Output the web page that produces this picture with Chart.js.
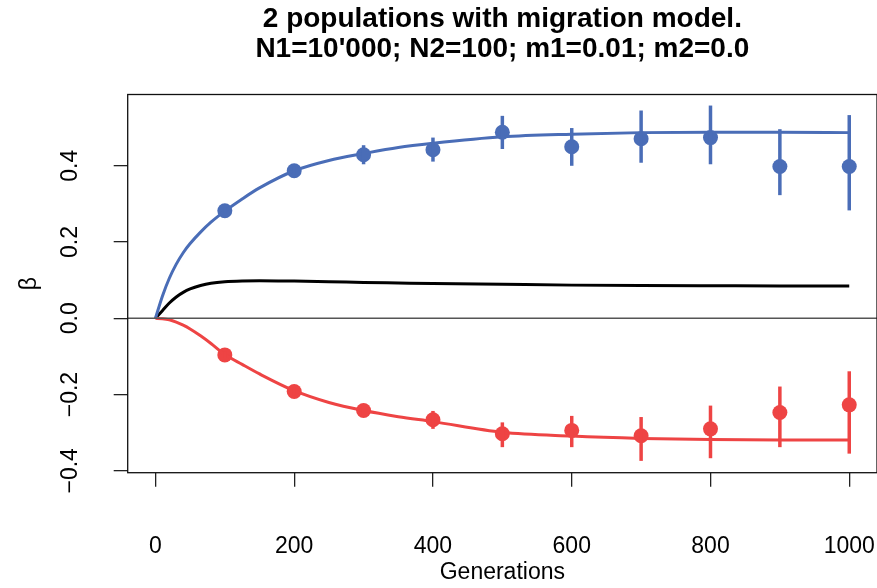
<!DOCTYPE html>
<html>
<head>
<meta charset="utf-8">
<script src="https://cdn.jsdelivr.net/npm/chart.js@4/dist/chart.umd.min.js"></script>
<style>
  html, body { margin: 0; padding: 0; background: #ffffff; }
  #wrap { width: 877px; height: 588px; }
</style>
</head>
<body>
<div id="wrap"><canvas id="chart" width="877" height="588"></canvas></div>
<script>
// Sampled generations (simulation means with error bars)
const generations = [100, 200, 300, 400, 500, 600, 700, 800, 900, 1000];

// Population 1 (blue): simulated beta and its interval
const pop1Mean  = [0.282, 0.387, 0.429, 0.442, 0.488, 0.450, 0.471, 0.474, 0.398, 0.398];
const pop1Lower = [0.274, 0.377, 0.404, 0.411, 0.444, 0.400, 0.408, 0.404, 0.323, 0.283];
const pop1Upper = [0.290, 0.397, 0.454, 0.474, 0.531, 0.499, 0.545, 0.558, 0.496, 0.533];

// Population 2 (red): simulated beta and its interval
const pop2Mean  = [-0.096, -0.192, -0.242, -0.266, -0.303, -0.294, -0.308, -0.290, -0.247, -0.227];
const pop2Lower = [-0.104, -0.202, -0.257, -0.290, -0.338, -0.338, -0.374, -0.367, -0.338, -0.355];
const pop2Upper = [-0.088, -0.182, -0.227, -0.243, -0.273, -0.256, -0.259, -0.229, -0.179, -0.139];

// Model predictions over time
const modelGen   = [0, 10, 20, 30, 40, 50, 65, 80, 100, 125, 150, 200, 250, 300, 350, 400, 500, 600, 700, 800, 900, 1000];
const pop1Model  = [0, 0.058, 0.105, 0.142, 0.172, 0.196, 0.226, 0.252, 0.281, 0.313, 0.342, 0.387, 0.414, 0.432, 0.448, 0.459, 0.476, 0.483, 0.487, 0.488, 0.488, 0.487];
const pop2Model  = [0, -0.001, -0.004, -0.010, -0.018, -0.028, -0.046, -0.066, -0.095, -0.121, -0.146, -0.190, -0.221, -0.242, -0.258, -0.271, -0.299, -0.309, -0.315, -0.318, -0.319, -0.319];
const diffModel  = [0, 0.020, 0.040, 0.056, 0.068, 0.077, 0.086, 0.092, 0.096, 0.098, 0.0985, 0.0975, 0.096, 0.094, 0.0925, 0.091, 0.089, 0.087, 0.086, 0.0855, 0.085, 0.085];

// Axis ticks
const xTicks = [0, 200, 400, 600, 800, 1000];
const yTicks = [-0.4, -0.2, 0, 0.2, 0.4];

const titleLines = ['2 populations with migration model.', "N1=10'000; N2=100; m1=0.01; m2=0.0"];

const BLUE = '#4A6DB7';
const RED = '#EE4444';
const FONT = '"Liberation Sans", Arial, Helvetica, sans-serif';

const toXY = (xs, ys) => xs.map((x, i) => ({ x: x, y: ys[i] }));

// Vertical error bars for the simulated means
const errorBars = {
  id: 'errorBars',
  afterDatasetsDraw(chart) {
    const { ctx, scales: { x, y } } = chart;
    const series = [
      { lo: pop1Lower, hi: pop1Upper, color: BLUE },
      { lo: pop2Lower, hi: pop2Upper, color: RED }
    ];
    ctx.save();
    ctx.lineCap = 'butt';
    ctx.lineWidth = 3.5;
    series.forEach(s => {
      ctx.strokeStyle = s.color;
      generations.forEach((g, i) => {
        const px = x.getPixelForValue(g);
        ctx.beginPath();
        ctx.moveTo(px, y.getPixelForValue(s.lo[i]));
        ctx.lineTo(px, y.getPixelForValue(s.hi[i]));
        ctx.stroke();
      });
    });
    ctx.restore();
  }
};

// Frame around the plot region and the two-line heading
const frameAndHeading = {
  id: 'frameAndHeading',
  afterDraw(chart) {
    const { ctx, chartArea: a } = chart;
    ctx.save();
    ctx.strokeStyle = '#111';
    ctx.lineWidth = 1.3;
    ctx.strokeRect(a.left, a.top, a.right - a.left, a.bottom - a.top);
    ctx.fillStyle = '#000';
    ctx.font = 'bold 28px ' + FONT;
    ctx.textAlign = 'center';
    ctx.textBaseline = 'middle';
    const cx = (a.left + a.right) / 2;
    ctx.fillText(titleLines[0], cx, 19);
    ctx.fillText(titleLines[1], cx, 49);
    ctx.restore();
  }
};

const lineSet = (label, ys, color, width) => ({
  label: label,
  data: toXY(modelGen, ys),
  showLine: true,
  borderColor: color,
  borderWidth: width,
  pointRadius: 0,
  cubicInterpolationMode: 'monotone',
  fill: false
});

const pointSet = (label, ys, color) => ({
  label: label,
  data: toXY(generations, ys),
  showLine: false,
  pointRadius: 7.5,
  pointBorderWidth: 0,
  pointBackgroundColor: color,
  backgroundColor: color,
  borderColor: color
});

new Chart(document.getElementById('chart'), {
  type: 'scatter',
  data: {
    datasets: [
      {
        label: 'zero',
        data: [{ x: -40, y: 0 }, { x: 1040, y: 0 }],
        showLine: true,
        borderColor: '#555555',
        borderWidth: 1.6,
        pointRadius: 0
      },
      lineSet('pop1 model', pop1Model, BLUE, 3),
      lineSet('pop2 model', pop2Model, RED, 3),
      lineSet('difference', diffModel, '#000000', 3),
      pointSet('pop1', pop1Mean, BLUE),
      pointSet('pop2', pop2Mean, RED)
    ]
  },
  options: {
    responsive: false,
    animation: false,
    devicePixelRatio: 1,
    layout: { autoPadding: false, padding: { top: 94.5, left: 0, right: 0, bottom: 0 } },
    plugins: {
      legend: { display: false },
      tooltip: { enabled: false },
      title: { display: false }
    },
    scales: {
      x: {
        type: 'linear',
        min: -40,
        max: 1040,
        afterBuildTicks: s => { s.ticks = xTicks.map(v => ({ value: v })); },
        afterFit: s => { s.height = 115.3; s.paddingLeft = 0; s.paddingRight = 0; },
        border: { display: false },
        grid: { drawOnChartArea: false, drawTicks: true, tickLength: 14, color: '#222', lineWidth: 1.3 },
        ticks: {
          padding: 46.5,
          color: '#000',
          font: { family: FONT, size: 23 },
          maxRotation: 0,
          autoSkip: false,
          callback: v => String(v)
        },
        title: {
          display: true,
          text: 'Generations',
          color: '#000',
          font: { family: FONT, size: 23 },
          padding: { top: 0, bottom: 1.2 }
        }
      },
      y: {
        type: 'linear',
        min: -0.405,
        max: 0.587,
        afterBuildTicks: s => { s.ticks = yTicks.map(v => ({ value: v })); },
        afterFit: s => { s.width = 127.7; s.paddingTop = 0; s.paddingBottom = 0; },
        border: { display: false },
        grid: { drawOnChartArea: false, drawTicks: true, tickLength: 14, color: '#222', lineWidth: 1.3 },
        ticks: {
          minRotation: 90,
          maxRotation: 90,
          crossAlign: 'center',
          padding: 20,
          color: '#000',
          font: { family: FONT, size: 23 },
          autoSkip: false,
          callback: v => (v === 0 ? '0.0' : v.toFixed(1).replace('-', '\u2212'))
        },
        title: {
          display: true,
          text: '\u03B2',
          color: '#000',
          font: { family: FONT, size: 23 },
          padding: { top: 16, bottom: 0 }
        }
      }
    }
  },
  plugins: [errorBars, frameAndHeading]
});
</script>
</body>
</html>
